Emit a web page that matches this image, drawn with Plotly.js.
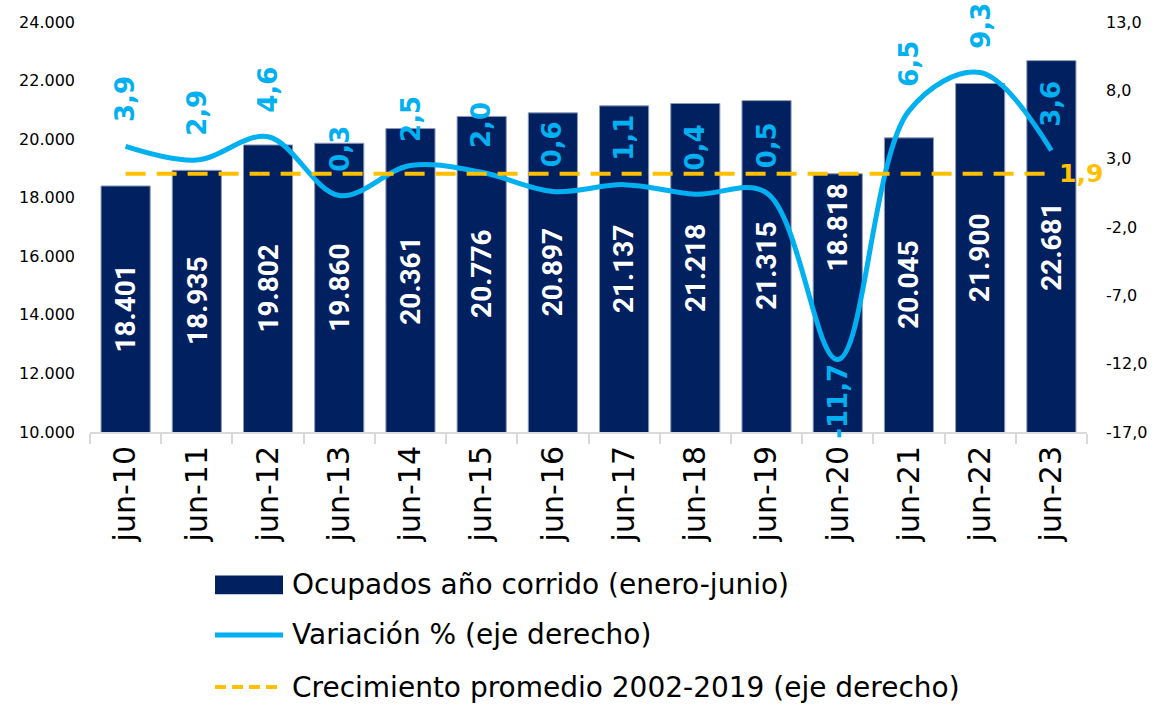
<!DOCTYPE html>
<html>
<head>
<meta charset="utf-8">
<script src="https://cdn.plot.ly/plotly-3.0.1.min.js"></script>
<style>html,body{margin:0;padding:0;background:#fff;}#chart{width:1165px;height:707px;}</style>
</head>
<body>
<div id="chart"></div>
<script>
var categories = ['jun-10','jun-11','jun-12','jun-13','jun-14','jun-15','jun-16','jun-17','jun-18','jun-19','jun-20','jun-21','jun-22','jun-23'];
var ocupados = [18401, 18935, 19802, 19860, 20361, 20776, 20897, 21137, 21218, 21315, 18818, 20045, 21900, 22681];
var variacion = [3.9, 2.9, 4.6, 0.3, 2.5, 2.0, 0.6, 1.1, 0.4, 0.5, -11.7, 6.5, 9.3, 3.6];
var promedio = 1.9;
var seriesNames = ['Ocupados año corrido (enero-junio)', 'Variación % (eje derecho)', 'Crecimiento promedio 2002-2019 (eje derecho)'];
var leftTicks = [10000, 12000, 14000, 16000, 18000, 20000, 22000, 24000];
var rightTicks = [-17, -12, -7, -2, 3, 8, 13];

var NAVY = '#002060', BLUE = '#00b0f0', GOLD = '#ffc000';
var AXFONT = 'DejaVu Sans, sans-serif';
var Y_MIN = 10000, Y_MAX = 24000, Y2_MIN = -17, Y2_MAX = 13;

function fmt1(v){ return v.toFixed(1).replace('.', ','); }
function fmtThousands(v){ return String(v).replace(/\B(?=(\d{3})+(?!\d))/g, '.'); }

var traces = [
  {
    type: 'bar', name: seriesNames[0], x: categories, y: ocupados, yaxis: 'y',
    marker: {color: NAVY, line: {color: '#8e9ab8', width: 1}},
    hoverinfo: 'x+y', showlegend: false
  },
  {
    type: 'scatter', mode: 'lines', name: seriesNames[1], x: categories, y: variacion, yaxis: 'y2',
    line: {color: BLUE, width: 5, shape: 'spline', smoothing: 1.0}, showlegend: false
  },
  {
    type: 'scatter', mode: 'lines', name: seriesNames[2], x: categories, y: categories.map(function(){return promedio;}), yaxis: 'y2',
    line: {color: GOLD, width: 4, dash: '20px,11px'}, showlegend: false
  }
];

var annotations = [];
// bar value labels: centred in the visible bar; moved to the top when the variation label sits inside the bar
ocupados.forEach(function(v, i){
  var top = variacion[i] < 0;
  annotations.push({
    x: categories[i], y: top ? v : (v + Y_MIN) / 2, xref: 'x', yref: 'y', text: fmtThousands(v), showarrow: false,
    textangle: -90, xanchor: 'center', yanchor: top ? 'top' : 'middle', yshift: top ? -8 : 0,
    font: {family: 'Roboto, sans-serif', size: 28, color: '#ffffff', weight: 700}
  });
});
variacion.forEach(function(v, i){
  var neg = v < 0;
  annotations.push({
    x: categories[i], y: v, xref: 'x', yref: 'y2', text: fmt1(v), showarrow: false,
    textangle: -90, xanchor: 'center', yanchor: neg ? 'top' : 'bottom', yshift: neg ? -2 : 22,
    font: {family: AXFONT, size: 26, color: BLUE, weight: 700}
  });
});
annotations.push({
  x: categories[categories.length-1], y: promedio, xref: 'x', yref: 'y2', text: fmt1(promedio), showarrow: false,
  xanchor: 'left', yanchor: 'middle', xshift: 6,
  font: {family: AXFONT, size: 25, color: GOLD, weight: 700}
});

// custom legend
var legRows = [-0.373, -0.495, -0.622];
var shapes = [
  {type: 'rect', xref: 'paper', yref: 'paper', x0: 0.1254, x1: 0.1936, y0: legRows[0]-0.023, y1: legRows[0]+0.023, fillcolor: NAVY, line: {width: 0}},
  {type: 'line', xref: 'paper', yref: 'paper', x0: 0.1254, x1: 0.1936, y0: legRows[1], y1: legRows[1], line: {color: BLUE, width: 5}},
  {type: 'line', xref: 'paper', yref: 'paper', x0: 0.1254, x1: 0.1936, y0: legRows[2], y1: legRows[2], line: {color: GOLD, width: 4, dash: '11px,6px'}}
];
seriesNames.forEach(function(n, i){
  annotations.push({
    xref: 'paper', yref: 'paper', x: 0.2006, y: legRows[i], text: n, showarrow: false,
    xanchor: 'left', yanchor: 'middle', font: {family: AXFONT, size: 28, color: '#000000'}
  });
});

var layout = {
  width: 1165, height: 707,
  margin: {l: 90, r: 78, t: 22, b: 275},
  paper_bgcolor: '#ffffff', plot_bgcolor: '#ffffff',
  separators: ',.',
  bargap: 0.31,
  showlegend: false,
  xaxis: {
    type: 'category', range: [-0.5, categories.length - 0.5], autorange: false,
    tickangle: -90, ticks: 'outside', tickson: 'boundaries', ticklen: 10, tickwidth: 2,
    tickcolor: '#d9d9d9', showline: true, linecolor: '#d9d9d9', linewidth: 2, showgrid: false,
    tickfont: {family: AXFONT, size: 30, color: '#000000'}
  },
  yaxis: {
    range: [Y_MIN, Y_MAX], autorange: false, tickvals: leftTicks, ticktext: leftTicks.map(fmtThousands),
    showgrid: false, zeroline: false, showline: false, ticks: '', ticklabelstandoff: 14,
    tickfont: {family: AXFONT, size: 16, color: '#000000'}
  },
  yaxis2: {
    overlaying: 'y', side: 'right', range: [Y2_MIN, Y2_MAX], autorange: false,
    tickvals: rightTicks, ticktext: rightTicks.map(fmt1),
    showgrid: false, zeroline: false, showline: false, ticks: '', ticklabelstandoff: 18,
    tickfont: {family: AXFONT, size: 16, color: '#000000'}
  },
  annotations: annotations,
  shapes: shapes
};

Plotly.newPlot('chart', traces, layout, {displayModeBar: false, staticPlot: true});
</script>
</body>
</html>
